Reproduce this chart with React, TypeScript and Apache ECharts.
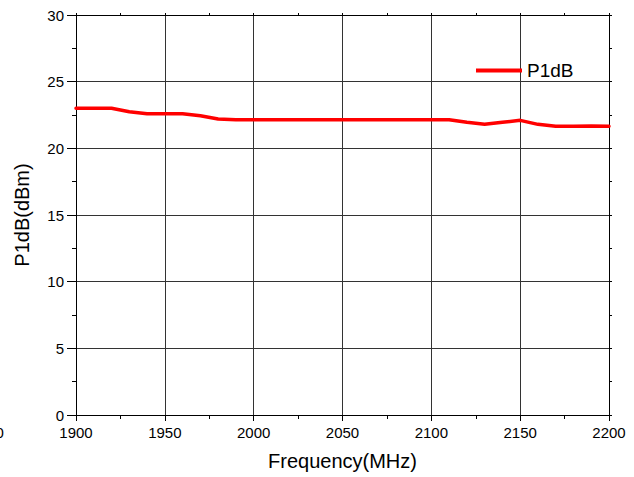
import React, { useEffect, useRef } from "react";
import * as echarts from "echarts";

// Frequency sweep (MHz) and measured output 1 dB compression point (dBm)
const freqs = [
  1900, 1910, 1920, 1930, 1940, 1950, 1960, 1970, 1980, 1990, 2000,
  2010, 2020, 2030, 2040, 2050, 2060, 2070, 2080, 2090, 2100,
  2110, 2120, 2130, 2140, 2150, 2160, 2170, 2180, 2190, 2200,
];
const p1db = [
  23.0, 23.0, 23.0, 22.75, 22.6, 22.6, 22.6, 22.45, 22.2, 22.15, 22.15,
  22.15, 22.15, 22.15, 22.15, 22.15, 22.15, 22.15, 22.15, 22.15, 22.15,
  22.15, 21.95, 21.8, 21.95, 22.1, 21.8, 21.65, 21.65, 21.67, 21.65,
];
const seriesName = "P1dB";
const xTitle = "Frequency(MHz)";
const yTitle = "P1dB(dBm)";
// a neighbouring tick value that sits just off the left edge of the plot
const offEdgeTick = 1850;

const FONT = "'Liberation Sans', Arial, sans-serif";

export default function App() {
  const ref = useRef<HTMLDivElement>(null);

  useEffect(() => {
    if (!ref.current) return;
    const chart = echarts.init(ref.current, null, { renderer: "svg" });
    const data = freqs.map((f, i) => [f, p1db[i]]);
    const labelStyle = {
      color: "#000",
      fontFamily: FONT,
      fontSize: 15,
      formatter: (v: number) => String(v),
    };

    chart.setOption({
      animation: false,
      backgroundColor: "#fff",
      grid: { left: 76, right: 25, top: 15, bottom: 62, containLabel: false },
      legend: {
        data: [{ name: seriesName, icon: "rect" }],
        left: 476,
        top: 61,
        padding: 0,
        itemWidth: 46,
        itemHeight: 4,
        textStyle: { color: "#000", fontFamily: FONT, fontSize: 19 },
      },
      xAxis: [
        {
          type: "value",
          position: "bottom",
          min: 1900,
          max: 2200,
          interval: 50,
          name: xTitle,
          nameLocation: "middle",
          nameGap: 36,
          nameTextStyle: { color: "#000", fontFamily: FONT, fontSize: 20 },
          axisLine: { show: true, onZero: false, lineStyle: { color: "#000", width: 1 } },
          axisTick: { show: true, inside: false, length: 6, lineStyle: { color: "#000" } },
          minorTick: { show: true, splitNumber: 2, length: 4, lineStyle: { color: "#000" } },
          axisLabel: { ...labelStyle, margin: 10, showMinLabel: true, showMaxLabel: true },
          splitLine: { show: true, lineStyle: { color: "#333", width: 1 } },
        },
        {
          type: "value",
          position: "top",
          min: 1900,
          max: 2200,
          interval: 25,
          axisLine: { show: true, onZero: false, lineStyle: { color: "#000", width: 1 } },
          axisTick: { show: true, inside: false, length: 2, lineStyle: { color: "#000" } },
          axisLabel: { show: false },
          splitLine: { show: false },
        },
      ],
      yAxis: [
        {
          type: "value",
          position: "left",
          min: 0,
          max: 30,
          interval: 5,
          name: yTitle,
          nameLocation: "middle",
          nameGap: 44,
          nameTextStyle: { color: "#000", fontFamily: FONT, fontSize: 20 },
          axisLine: { show: true, onZero: false, lineStyle: { color: "#000", width: 1 } },
          axisTick: { show: true, inside: false, length: 9, lineStyle: { color: "#000" } },
          minorTick: { show: true, splitNumber: 2, length: 4, lineStyle: { color: "#000" } },
          axisLabel: { ...labelStyle, margin: 12 },
          splitLine: { show: true, lineStyle: { color: "#333", width: 1 } },
        },
        {
          type: "value",
          position: "right",
          min: 0,
          max: 30,
          interval: 2.5,
          axisLine: { show: true, onZero: false, lineStyle: { color: "#000", width: 1 } },
          axisTick: { show: true, inside: false, length: 3, lineStyle: { color: "#000" } },
          axisLabel: { show: false },
          splitLine: { show: false },
        },
      ],
      series: [
        {
          name: seriesName,
          type: "line",
          xAxisIndex: 0,
          yAxisIndex: 0,
          data,
          showSymbol: false,
          symbol: "none",
          color: "#ff0000",
          lineStyle: { color: "#ff0000", width: 3.5, join: "round", cap: "round" },
          z: 5,
        },
      ],
    });

    // clipped tick label left of the plot, placed through the axis scale
    const [px, py] = chart.convertToPixel({ xAxisIndex: 0, yAxisIndex: 0 }, [offEdgeTick, 0]) as number[];
    chart.setOption({
      graphic: [
        {
          type: "text",
          x: px,
          y: py + 10,
          style: {
            text: String(offEdgeTick),
            fill: "#000",
            font: `15px ${FONT}`,
            textAlign: "center",
            textVerticalAlign: "top",
          },
        },
      ],
    });

    return () => chart.dispose();
  }, []);

  return (
    <div
      ref={ref}
      style={{ position: "fixed", left: 0, top: 0, width: 634, height: 477 }}
    />
  );
}
